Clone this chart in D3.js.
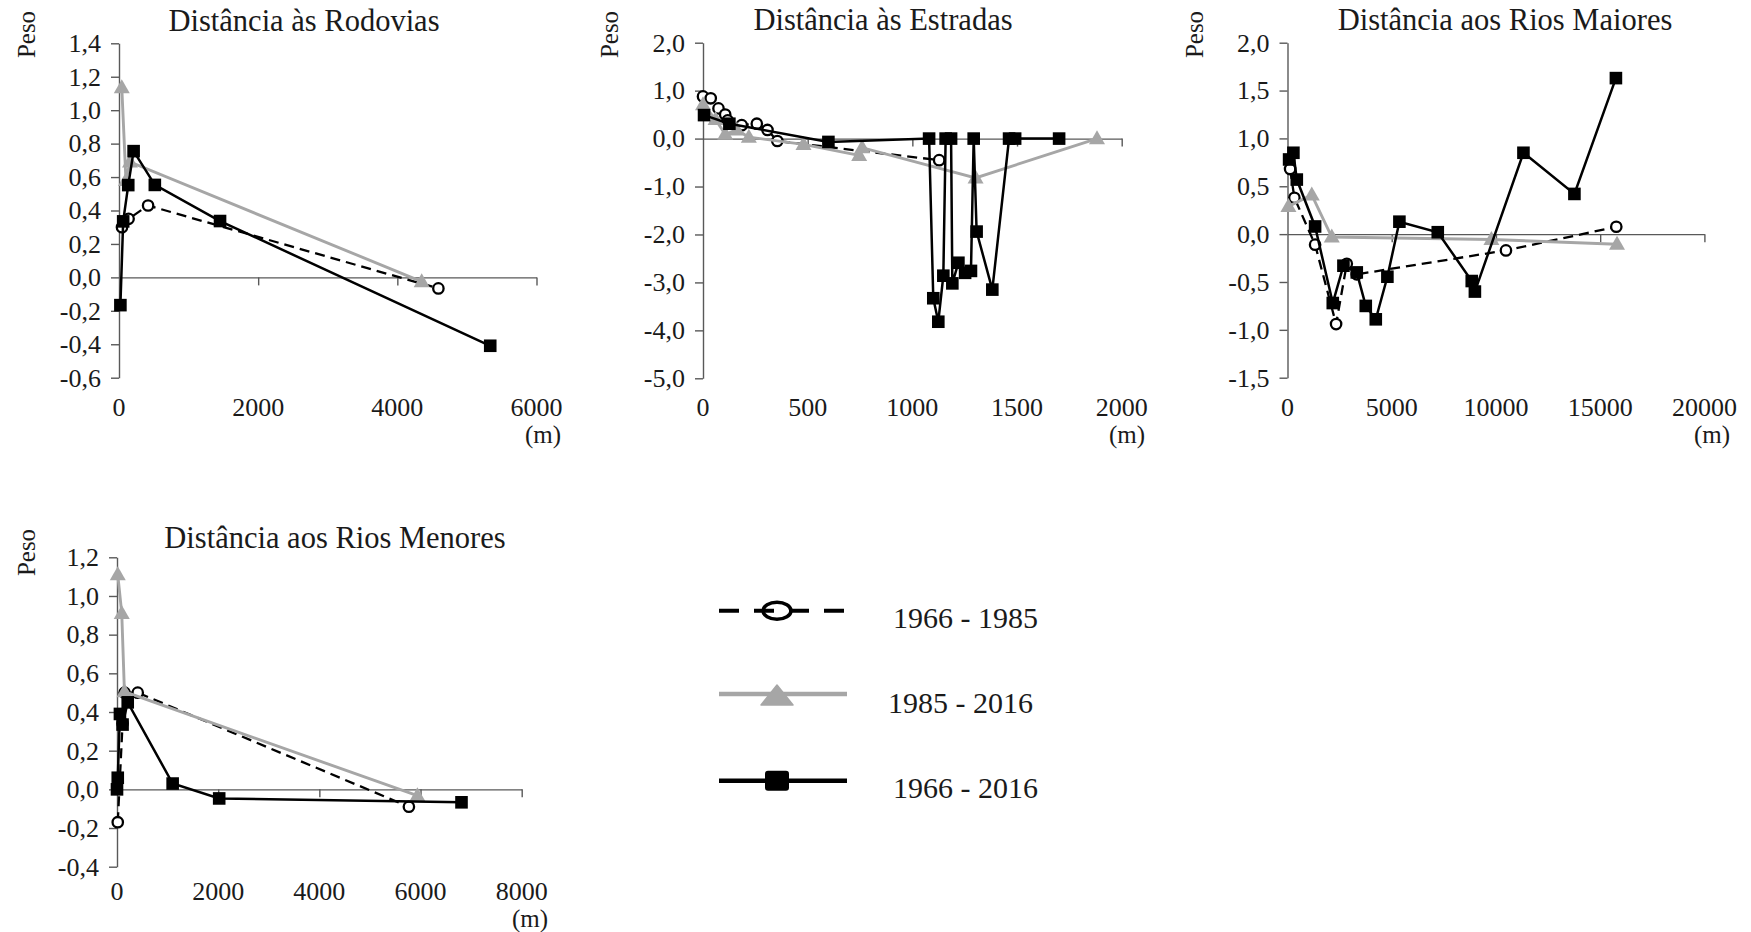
<!DOCTYPE html>
<html>
<head>
<meta charset="utf-8">
<script src="https://cdn.jsdelivr.net/npm/d3@7"></script>
<style>
  html, body { margin: 0; padding: 0; background: #fff; }
  svg { display: block; }
  text { font-family: "Liberation Serif", "Times New Roman", serif; fill: #1a1a1a; }
</style>
</head>
<body>
<svg id="chart" width="1751" height="932"></svg>
<script>
// ---------------- DATA ----------------
// Distância às Rodovias
const rodovias_1966_1985 = [[43, 0.30], [138, 0.35], [418, 0.43], [4590, -0.066]];
const rodovias_1985_2016 = [[40, 1.135], [100, 0.58], [158, 0.69], [4350, -0.025]];
const rodovias_1966_2016 = [[20, -0.166], [60, 0.335], [133, 0.552], [210, 0.755], [515, 0.553], [1452, 0.337], [5335, -0.409]];
const rodoviasXTicks = [0, 2000, 4000, 6000];
const rodoviasYTicks = [-0.6, -0.4, -0.2, 0, 0.2, 0.4, 0.6, 0.8, 1.0, 1.2, 1.4];

// Distância às Estradas
const estradas_1966_1985 = [[0, 0.88], [37, 0.84], [74, 0.63], [106, 0.50], [118, 0.38], [185, 0.28], [257, 0.31], [308, 0.18], [355, -0.05], [1128, -0.45]];
const estradas_1985_2016 = [[0, 0.71], [60, 0.40], [106, 0.09], [162, 0.18], [219, 0.03], [480, -0.12], [746, -0.35], [760, -0.19], [1302, -0.82], [1882, 0.0]];
const estradas_1966_2016 = [[5, 0.49], [126, 0.31], [599, -0.07], [1080, 0.0], [1100, -3.33], [1124, -3.82], [1148, -2.86], [1159, 0.0], [1185, 0.0], [1191, -3.02], [1220, -2.59], [1252, -2.80], [1280, -2.76], [1293, 0.0], [1307, -1.94], [1382, -3.15], [1462, 0.0], [1491, 0.0], [1701, 0.0]];
const estradasXTicks = [0, 500, 1000, 1500, 2000];
const estradasYTicks = [-5, -4, -3, -2, -1, 0, 1, 2];

// Distância aos Rios Maiores
const riosMaiores_1966_1985 = [[125, 0.68], [331, 0.38], [1324, -0.11], [2331, -0.94], [2844, -0.31], [3323, -0.42], [10480, -0.17], [15773, 0.077]];
const riosMaiores_1985_2016 = [[45, 0.29], [1165, 0.41], [2124, -0.03], [9782, -0.056], [15808, -0.105]];
const riosMaiores_1966_2016 = [[77, 0.78], [283, 0.85], [446, 0.57], [1324, 0.08], [2172, -0.72], [2683, -0.33], [3323, -0.40], [3755, -0.75], [4235, -0.89], [4792, -0.445], [5368, 0.13], [7209, 0.02], [8839, -0.49], [8990, -0.60], [11319, 0.85], [13764, 0.42], [15755, 1.63]];
const riosMaioresXTicks = [0, 5000, 10000, 15000, 20000];
const riosMaioresYTicks = [-1.5, -1.0, -0.5, 0, 0.5, 1.0, 1.5, 2.0];

// Distância aos Rios Menores
const riosMenores_1966_1985 = [[15, -0.17], [110, 0.34], [150, 0.50], [410, 0.50], [5770, -0.09]];
const riosMenores_1985_2016 = [[15, 1.11], [94, 0.91], [147, 0.505], [5938, -0.033]];
const riosMenores_1966_2016 = [[0, 0.0], [15, 0.06], [58, 0.39], [110, 0.335], [212, 0.45], [1100, 0.03], [2020, -0.047], [6810, -0.067]];
const riosMenoresXTicks = [0, 2000, 4000, 6000, 8000];
const riosMenoresYTicks = [-0.4, -0.2, 0, 0.2, 0.4, 0.6, 0.8, 1.0, 1.2];

const panelTitles = ["Distância às Rodovias", "Distância às Estradas", "Distância aos Rios Maiores", "Distância aos Rios Menores"];
const seriesNames = ["1966 - 1985", "1985 - 2016", "1966 - 2016"];
const yAxisLabel = "Peso";
const xUnitLabel = "(m)";

// ---------------- LAYOUT ----------------
const panels = [
  { title: panelTitles[0], s1: rodovias_1966_1985, s2: rodovias_1985_2016, s3: rodovias_1966_2016,
    xTicks: rodoviasXTicks, yTicks: rodoviasYTicks,
    left: 119, right: 536.5, top: 43.3, bottom: 377.7, titleX: 304, titleY: 31, pesoX: 26, pesoY: 34.5,
    unitX: 561, unitY: 443, xLabY: 416 },
  { title: panelTitles[1], s1: estradas_1966_1985, s2: estradas_1985_2016, s3: estradas_1966_2016,
    xTicks: estradasXTicks, yTicks: estradasYTicks,
    left: 703, right: 1121.7, top: 42.7, bottom: 378.3, titleX: 883, titleY: 30, pesoX: 609, pesoY: 34.5,
    unitX: 1145, unitY: 443, xLabY: 416 },
  { title: panelTitles[2], s1: riosMaiores_1966_1985, s2: riosMaiores_1985_2016, s3: riosMaiores_1966_2016,
    xTicks: riosMaioresXTicks, yTicks: riosMaioresYTicks,
    left: 1287.5, right: 1704.4, top: 42.7, bottom: 377.7, titleX: 1505, titleY: 30, pesoX: 1194, pesoY: 34.5,
    unitX: 1730, unitY: 443, xLabY: 416 },
  { title: panelTitles[3], s1: riosMenores_1966_1985, s2: riosMenores_1985_2016, s3: riosMenores_1966_2016,
    xTicks: riosMenoresXTicks, yTicks: riosMenoresYTicks,
    left: 117, right: 521.7, top: 557.3, bottom: 866.7, titleX: 335, titleY: 548, pesoX: 26, pesoY: 552.5,
    unitX: 548, unitY: 927, xLabY: 900 }
];

const loc = d3.formatLocale({ decimal: ",", thousands: ".", grouping: [3], currency: ["", ""], minus: "-" });
const yFmt = loc.format(".1f");
const xFmt = loc.format("d");

const AXIS = "#595959";
const GREY = "#a6a6a6";
const FONT = "Liberation Serif, Times New Roman, serif";

const svg = d3.select("#chart");

function triPath(w, h) {
  return `M0,${-h * 0.6} L${w / 2},${h * 0.4} L${-w / 2},${h * 0.4} Z`;
}

panels.forEach(p => {
  const g = svg.append("g");
  const x = d3.scaleLinear().domain([p.xTicks[0], p.xTicks[p.xTicks.length - 1]]).range([p.left, p.right]);
  const y = d3.scaleLinear().domain([p.yTicks[0], p.yTicks[p.yTicks.length - 1]]).range([p.bottom, p.top]);

  // y axis
  const ya = g.append("g").attr("transform", `translate(${p.left},0)`)
    .call(d3.axisLeft(y).tickValues(p.yTicks).tickSize(8).tickSizeOuter(0).tickPadding(10).tickFormat(yFmt));
  ya.attr("font-family", FONT);
  ya.select(".domain").attr("stroke", AXIS).attr("stroke-width", 1.4);
  ya.selectAll(".tick line").attr("stroke", AXIS).attr("stroke-width", 1.4);
  ya.selectAll(".tick text").attr("font-size", 26).attr("font-family", FONT).attr("fill", "#1a1a1a");

  // x axis line at y = 0
  const xa = g.append("g").attr("transform", `translate(0,${y(0)})`)
    .call(d3.axisBottom(x).tickValues(p.xTicks.slice(1)).tickSize(8).tickSizeOuter(0).tickFormat(""));
  xa.select(".domain").attr("stroke", AXIS).attr("stroke-width", 1.4);
  xa.selectAll(".tick line").attr("stroke", AXIS).attr("stroke-width", 1.4);

  // x tick labels at the bottom of the plot area
  g.append("g").selectAll("text").data(p.xTicks).join("text")
    .attr("x", d => x(d)).attr("y", p.xLabY)
    .attr("text-anchor", "middle").attr("font-size", 26)
    .text(d => xFmt(d));

  // titles and labels
  g.append("text").attr("x", p.titleX).attr("y", p.titleY).attr("text-anchor", "middle")
    .attr("font-size", 30.5).text(p.title);
  g.append("text").attr("transform", `translate(${p.pesoX},${p.pesoY}) rotate(-90)`)
    .attr("text-anchor", "middle").attr("dy", "0.35em").attr("font-size", 25).text(yAxisLabel);
  g.append("text").attr("x", p.unitX).attr("y", p.unitY).attr("text-anchor", "end")
    .attr("font-size", 25).text(xUnitLabel);

  const line = d3.line().x(d => x(d[0])).y(d => y(d[1]));

  // series 1966-1985 : dashed black, hollow circles
  g.append("path").datum(p.s1).attr("d", line).attr("fill", "none")
    .attr("stroke", "#000").attr("stroke-width", 2.3).attr("stroke-dasharray", "10,6");
  g.append("g").selectAll("circle").data(p.s1).join("circle")
    .attr("cx", d => x(d[0])).attr("cy", d => y(d[1])).attr("r", 5.2)
    .attr("fill", "#fff").attr("stroke", "#000").attr("stroke-width", 2.3);

  // series 1985-2016 : grey, triangles
  g.append("path").datum(p.s2).attr("d", line).attr("fill", "none")
    .attr("stroke", GREY).attr("stroke-width", 2.9);
  g.append("g").selectAll("path").data(p.s2).join("path")
    .attr("d", triPath(16, 14)).attr("transform", d => `translate(${x(d[0])},${y(d[1])})`)
    .attr("fill", GREY);

  // series 1966-2016 : black, squares
  g.append("path").datum(p.s3).attr("d", line).attr("fill", "none")
    .attr("stroke", "#000").attr("stroke-width", 2.5);
  g.append("g").selectAll("rect").data(p.s3).join("rect")
    .attr("x", d => x(d[0]) - 6.3).attr("y", d => y(d[1]) - 6.3)
    .attr("width", 12.6).attr("height", 12.6).attr("fill", "#000");
});

// ---------------- LEGEND ----------------
const lg = svg.append("g");
const legendRows = [
  { y: 610.7, textX: 893, textY: 628 },
  { y: 694, textX: 888, textY: 713 },
  { y: 780.7, textX: 893, textY: 798 }
];
// row 1
lg.append("line").attr("x1", 719).attr("x2", 846).attr("y1", legendRows[0].y).attr("y2", legendRows[0].y)
  .attr("stroke", "#000").attr("stroke-width", 4).attr("stroke-dasharray", "20,15");
lg.append("ellipse").attr("cx", 777).attr("cy", legendRows[0].y).attr("rx", 14).attr("ry", 8.5)
  .attr("fill", "none").attr("stroke", "#000").attr("stroke-width", 3.5);
// row 2
lg.append("line").attr("x1", 719).attr("x2", 847).attr("y1", legendRows[1].y).attr("y2", legendRows[1].y)
  .attr("stroke", GREY).attr("stroke-width", 4.5);
lg.append("path").attr("d", "M0,-10 L16,10 L-16,10 Z").attr("transform", `translate(777,${legendRows[1].y + 1})`)
  .attr("fill", GREY).attr("stroke", GREY).attr("stroke-width", 1.5).attr("stroke-linejoin", "round");
// row 3
lg.append("line").attr("x1", 719).attr("x2", 847).attr("y1", legendRows[2].y).attr("y2", legendRows[2].y)
  .attr("stroke", "#000").attr("stroke-width", 4.5);
lg.append("rect").attr("x", 777 - 12).attr("y", legendRows[2].y - 10).attr("width", 24).attr("height", 20)
  .attr("rx", 3).attr("fill", "#000");

lg.selectAll("text.leg").data(seriesNames).join("text").attr("class", "leg")
  .attr("x", (d, i) => legendRows[i].textX).attr("y", (d, i) => legendRows[i].textY)
  .attr("font-size", 30).text(d => d);
</script>
</body>
</html>
